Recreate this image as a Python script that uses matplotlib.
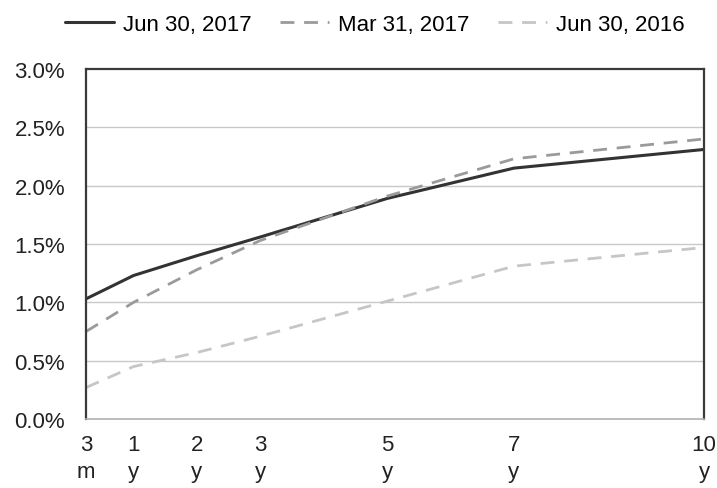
import matplotlib
matplotlib.use("Agg")
import matplotlib.pyplot as plt

plt.rcParams["font.family"] = ["Liberation Sans", "DejaVu Sans"]

# Treasury yield curve at three dates (yield in %)
tenor_years = [0.25, 1, 2, 3, 5, 7, 10]
tenor_labels = ["3\nm", "1\ny", "2\ny", "3\ny", "5\ny", "7\ny", "10\ny"]
jun_2017 = [1.03, 1.23, 1.40, 1.56, 1.89, 2.15, 2.31]
mar_2017 = [0.75, 1.00, 1.28, 1.53, 1.91, 2.23, 2.40]
jun_2016 = [0.27, 0.45, 0.57, 0.71, 1.01, 1.31, 1.47]
series_names = ["Jun 30, 2017", "Mar 31, 2017", "Jun 30, 2016"]
y_ticks = [0.0, 0.5, 1.0, 1.5, 2.0, 2.5, 3.0]

fig = plt.figure(figsize=(7.17, 4.89), dpi=100)
ax = fig.add_axes([0.120, 0.141, 0.862, 0.716])

ax.plot(tenor_years, jun_2017, color="#333333", lw=2.2,
        label=series_names[0], solid_capstyle="round")
ax.plot(tenor_years, mar_2017, color="#9a9a9a", lw=2.0,
        dashes=(5, 3.5), label=series_names[1])
ax.plot(tenor_years, jun_2016, color="#c6c6c6", lw=2.0,
        dashes=(5, 3.5), label=series_names[2])

ax.set_xlim(0.25, 10)
ax.set_ylim(0, 3.0)
ax.set_xticks(tenor_years)
ax.set_xticklabels(tenor_labels, linespacing=1.35)
ax.set_yticks(y_ticks)
ax.set_yticklabels([f"{v:.1f}%" for v in y_ticks])
ax.tick_params(axis="both", length=0, labelsize=16, colors="#222222")
ax.tick_params(axis="y", pad=15)
ax.tick_params(axis="x", pad=11)

for v in y_ticks[1:-1]:
    ax.axhline(v, color="#c8c8c8", lw=1.0, zorder=0)

for side in ["left", "right", "top"]:
    ax.spines[side].set_color("#3a3a3a")
    ax.spines[side].set_linewidth(1.6)
ax.spines["bottom"].set_color("#b0b0b0")
ax.spines["bottom"].set_linewidth(1.2)

fig.legend(loc="upper center", bbox_to_anchor=(0.523, 1.01), ncol=3,
           frameon=False, fontsize=16, handlelength=2.2,
           handletextpad=0.4, columnspacing=1.3)

fig.savefig("out.png", dpi=100, facecolor="white")
